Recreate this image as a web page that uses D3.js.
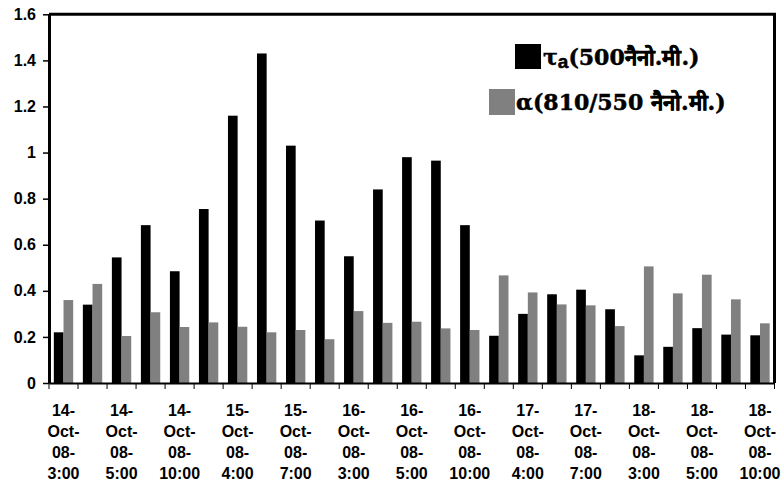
<!DOCTYPE html>
<html><head><meta charset="utf-8">
<script src="https://cdn.jsdelivr.net/npm/d3@7/dist/d3.min.js"></script>
<style>
html,body{margin:0;padding:0;background:#fff;}
svg{display:block;}
</style></head>
<body>
<svg id="chart" width="783" height="485"></svg>
<script>
const categories = [
 "14-Oct-08-3:00","14-Oct-08-4:00","14-Oct-08-5:00","14-Oct-08-7:00","14-Oct-08-10:00",
 "15-Oct-08-3:00","15-Oct-08-4:00","15-Oct-08-5:00","15-Oct-08-7:00","15-Oct-08-10:00",
 "16-Oct-08-3:00","16-Oct-08-4:00","16-Oct-08-5:00","16-Oct-08-7:00","16-Oct-08-10:00",
 "17-Oct-08-3:00","17-Oct-08-4:00","17-Oct-08-5:00","17-Oct-08-7:00","17-Oct-08-10:00",
 "18-Oct-08-3:00","18-Oct-08-4:00","18-Oct-08-5:00","18-Oct-08-7:00","18-Oct-08-10:00"
];
const tauValues = [0.22,0.34,0.545,0.685,0.485,0.755,1.16,1.43,1.03,0.705,0.55,0.84,0.98,0.965,0.685,0.205,0.30,0.385,0.405,0.32,0.12,0.157,0.238,0.21,0.207];
const alphaValues = [0.36,0.43,0.204,0.307,0.243,0.263,0.244,0.22,0.23,0.19,0.312,0.261,0.266,0.237,0.23,0.467,0.393,0.341,0.337,0.247,0.506,0.389,0.47,0.363,0.259];
const seriesNames = ["τa(500नैनो.मी.)", "α(810/550 नैनो.मी.)"];
const yTicks = [0,0.2,0.4,0.6,0.8,1,1.2,1.4,1.6];
const labelledCategories = categories.filter((d,i)=>i%2===0);

const svg = d3.select("#chart");
const m = {left:49, right:774.5, top:14.3, bottom:383};
const x = d3.scaleBand().domain(categories).range([m.left, m.right]).paddingInner(0).paddingOuter(0);
const y = d3.scaleLinear().domain([0,1.6]).range([m.bottom, m.top]);
const inner = d3.scaleBand().domain([0,1]).range([0, x.bandwidth()]).paddingInner(0).paddingOuter(0.5);

const colors = ["#000000", "#808080"];
const seriesData = [tauValues, alphaValues];

seriesData.forEach((vals, s) => {
  svg.append("g").selectAll("rect").data(vals).enter().append("rect")
    .attr("x", (d,i) => x(categories[i]) + inner(s))
    .attr("y", d => y(d))
    .attr("width", inner.bandwidth())
    .attr("height", d => y(0) - y(d))
    .attr("fill", colors[s]);
});

// frame top and right
svg.append("line").attr("x1", m.left).attr("x2", m.right + 1.5).attr("y1", m.top).attr("y2", m.top)
  .attr("stroke","#000").attr("stroke-width",3);
svg.append("line").attr("x1", m.right).attr("x2", m.right).attr("y1", m.top).attr("y2", m.bottom)
  .attr("stroke","#000").attr("stroke-width",3);

// Y axis
const yAxis = svg.append("g").attr("transform", `translate(${m.left},0)`)
  .call(d3.axisLeft(y).tickValues(yTicks).tickFormat(d3.format("~g")).tickSize(6).tickSizeOuter(0));
yAxis.select(".domain").attr("stroke-width",3);
yAxis.selectAll(".tick line").attr("stroke-width",1.5);
yAxis.selectAll("text").attr("font-family","Liberation Sans, Arial, sans-serif").attr("font-weight","bold")
  .attr("font-size","16px").attr("fill","#000").attr("x",-13);

// X axis
const xAxis = svg.append("g").attr("transform", `translate(0,${m.bottom})`)
  .call(d3.axisBottom(x).tickValues([]).tickSizeOuter(0));
xAxis.select(".domain").attr("stroke-width",2);
// ticks at category boundaries
const boundaries = categories.map(c => x(c)).concat([m.right]);
xAxis.selectAll(".bt").data(boundaries).enter().append("line")
  .attr("x1", d=>d).attr("x2", d=>d).attr("y1",0).attr("y2",6)
  .attr("stroke","#000").attr("stroke-width",1);

// x labels
const lab = svg.append("g").attr("font-family","Liberation Sans, Arial, sans-serif")
  .attr("font-weight","bold").attr("font-size","16px").attr("text-anchor","middle").attr("fill","#000");
labelledCategories.forEach(c => {
  const parts = c.split("-");
  const lines = [parts[0]+"-", parts[1]+"-", parts[2]+"-", parts[3]];
  const t = lab.append("text").attr("x", x(c) + x.bandwidth()/2).attr("y", 416);
  lines.forEach((ln, k) => t.append("tspan").attr("x", x(c) + x.bandwidth()/2).attr("y", 416 + k*21).text(ln));
});

// Legend
const leg = svg.append("g");
leg.append("rect").attr("x",515).attr("y",44).attr("width",26).attr("height",25).attr("fill",colors[0]);
leg.append("rect").attr("x",489).attr("y",89).attr("width",26).attr("height",26).attr("fill",colors[1]);
const t1 = leg.append("text").attr("x",543).attr("y",65).attr("font-family","DejaVu Serif, serif")
  .attr("font-weight","bold").attr("font-size","22px").attr("fill","#000").attr("stroke","#000").attr("stroke-width",0.5);
t1.append("tspan").text(seriesNames[0].slice(0,1));
t1.append("tspan").attr("font-family","Liberation Sans, Arial, sans-serif").attr("font-size","19px").attr("dy",3).text(seriesNames[0].slice(1,2));
t1.append("tspan").attr("dy",-3).text(seriesNames[0].slice(2));
leg.append("text").attr("x",516).attr("y",110).attr("font-family","DejaVu Serif, serif")
  .attr("font-weight","bold").attr("font-size","22px").attr("fill","#000").attr("stroke","#000").attr("stroke-width",0.5)
  .text(seriesNames[1]);
</script>
</body></html>
